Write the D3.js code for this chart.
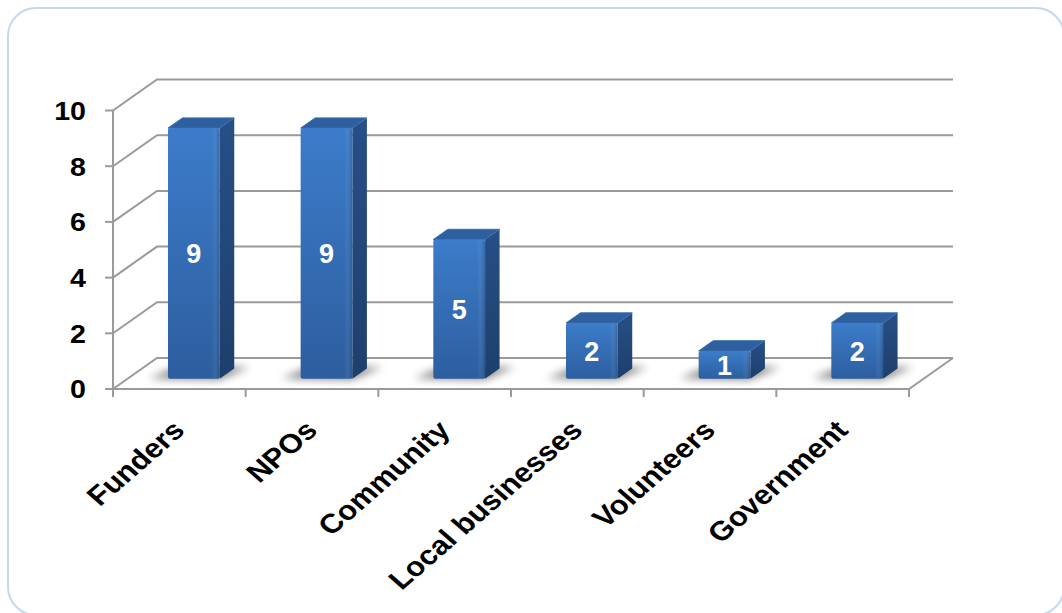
<!DOCTYPE html>
<html>
<head>
<meta charset="utf-8">
<script src="https://cdn.jsdelivr.net/npm/d3@7"></script>
<style>
  html, body { margin: 0; padding: 0; background: #ffffff; }
  svg { display: block; font-family: "Liberation Sans", Arial, sans-serif; }
</style>
</head>
<body>
<svg id="chart" width="1062" height="613"></svg>
<script>
// Stakeholder groups and their counts
const categories = ["Funders", "NPOs", "Community", "Local businesses", "Volunteers", "Government"];
const counts = [9, 9, 5, 2, 1, 2];
const yTicks = [0, 2, 4, 6, 8, 10];

const svg = d3.select("#chart");

// Outer frame
svg.append("rect")
  .attr("x", 8).attr("y", 8)
  .attr("width", 1056).attr("height", 607)
  .attr("rx", 28).attr("ry", 28)
  .attr("fill", "#ffffff")
  .attr("stroke", "#c5d8f0").attr("stroke-width", 2);

// 3D projection: category position along the front floor edge, value up,
// depth goes back and to the right.
const x = d3.scaleLinear().domain([0, categories.length]).range([113, 909]);
const y = d3.scaleLinear().domain([0, 10]).range([389, 110.5]);
const DEPTH_DX = 44, DEPTH_DY = -31;
function P(cx, v, d) {
  return [x(cx) + DEPTH_DX * d, y(v) + DEPTH_DY * d];
}

const defs = svg.append("defs");
const gradFront = defs.append("linearGradient").attr("id", "gFront")
  .attr("x1", 0).attr("y1", 0).attr("x2", 0).attr("y2", 1);
gradFront.append("stop").attr("offset", "0%").attr("stop-color", "#3c7cca");
gradFront.append("stop").attr("offset", "100%").attr("stop-color", "#2d5e9f");
const gradSide = defs.append("linearGradient").attr("id", "gSide")
  .attr("x1", 0).attr("y1", 0).attr("x2", 0).attr("y2", 1);
gradSide.append("stop").attr("offset", "0%").attr("stop-color", "#274f86");
gradSide.append("stop").attr("offset", "100%").attr("stop-color", "#1e3f6c");
const gradFrontH = defs.append("linearGradient").attr("id", "gFrontH")
  .attr("x1", 0).attr("y1", 0).attr("x2", 1).attr("y2", 0);
gradFrontH.append("stop").attr("offset", "0%").attr("stop-color", "#ffffff").attr("stop-opacity", 0.0);
gradFrontH.append("stop").attr("offset", "85%").attr("stop-color", "#ffffff").attr("stop-opacity", 0.0);
gradFrontH.append("stop").attr("offset", "100%").attr("stop-color", "#0d2442").attr("stop-opacity", 0.25);
const blur = defs.append("filter").attr("id", "shadowBlur")
  .attr("x", "-50%").attr("y", "-50%").attr("width", "200%").attr("height", "200%");
blur.append("feGaussianBlur").attr("stdDeviation", 4);

const grid = svg.append("g")
  .attr("stroke", "#9a9a9a").attr("stroke-width", 2).attr("fill", "none");
const line = d3.line();

// Back wall and side wall gridlines
yTicks.forEach(t => {
  grid.append("path").attr("d", line([P(0, t, 0), P(0, t, 1), P(categories.length, t, 1)]));
});
// Floor front edge and right edge
grid.append("path").attr("d", line([P(0, 0, 0), P(categories.length, 0, 0), P(categories.length, 0, 1)]));
// Value axis
grid.append("path").attr("d", line([P(0, 0, 0), P(0, 10, 0)]));
// Value ticks
yTicks.forEach(t => {
  const [px, py] = P(0, t, 0);
  grid.append("path").attr("d", line([[px - 8, py], [px, py]]));
});
// Category ticks
d3.range(categories.length + 1).forEach(i => {
  const [px, py] = P(i, 0, 0);
  grid.append("path").attr("d", line([[px, py], [px, py + 8]]));
});

// Value tick labels (slightly wide lettering)
svg.append("g").selectAll("text").data(yTicks).join("text")
  .attr("transform", d => `translate(86,${y(d)}) scale(1.1,1)`)
  .attr("dy", "0.36em")
  .attr("text-anchor", "end")
  .attr("font-size", 26).attr("font-weight", "bold").attr("fill", "#000")
  .text(d => d);

// Bars
const BAR_W = 0.39, D0 = 0.33, D1 = 0.66;
const bars = svg.append("g");
categories.forEach((c, i) => {
  const v = counts[i];
  const l = i + 0.5 - BAR_W / 2, r = i + 0.5 + BAR_W / 2;
  const g = bars.append("g");
  // soft floor shadow
  g.append("path")
    .attr("d", line([P(l - 0.15, 0, D0 + 0.02), P(r, 0, D0 - 0.02), P(r + 0.1, 0, D1 + 0.05), P(l - 0.06, 0, D1 + 0.02)]) + "Z")
    .attr("fill", "#000").attr("opacity", 0.5)
    .attr("filter", "url(#shadowBlur)");
  // side face
  g.append("path")
    .attr("d", line([P(r, 0, D0), P(r, 0, D1), P(r, v, D1), P(r, v, D0)]) + "Z")
    .attr("fill", "url(#gSide)");
  // top face
  g.append("path")
    .attr("d", line([P(l, v, D0), P(r, v, D0), P(r, v, D1), P(l, v, D1)]) + "Z")
    .attr("fill", "#2e5f9f")
    .attr("stroke", "#3a6fae").attr("stroke-width", 1).attr("stroke-linejoin", "round");
  // front face
  const [fx0, fy0] = P(l, v, D0);
  const [fx1, fy1] = P(r, 0, D0);
  g.append("rect")
    .attr("x", fx0).attr("y", fy0)
    .attr("width", fx1 - fx0).attr("height", fy1 - fy0)
    .attr("rx", 2)
    .attr("fill", "url(#gFront)");
  g.append("rect")
    .attr("x", fx0).attr("y", fy0)
    .attr("width", fx1 - fx0).attr("height", fy1 - fy0)
    .attr("rx", 2)
    .attr("fill", "url(#gFrontH)");
  // value label
  g.append("text")
    .attr("x", (fx0 + fx1) / 2)
    .attr("y", (fy0 + fy1) / 2)
    .attr("dy", "0.36em")
    .attr("text-anchor", "middle")
    .attr("font-size", 27).attr("font-weight", "bold").attr("fill", "#ffffff")
    .text(v);
});

// Category labels, rotated, with the same wide lettering
svg.append("g").selectAll("text").data(categories).join("text")
  .attr("transform", (d, i) => `translate(${x(i + 0.5) + 7},${432}) scale(1.15,1) rotate(-45)`)
  .attr("text-anchor", "end")
  .attr("font-size", 27).attr("font-weight", "bold").attr("fill", "#000")
  .text(d => d);
</script>
</body>
</html>
